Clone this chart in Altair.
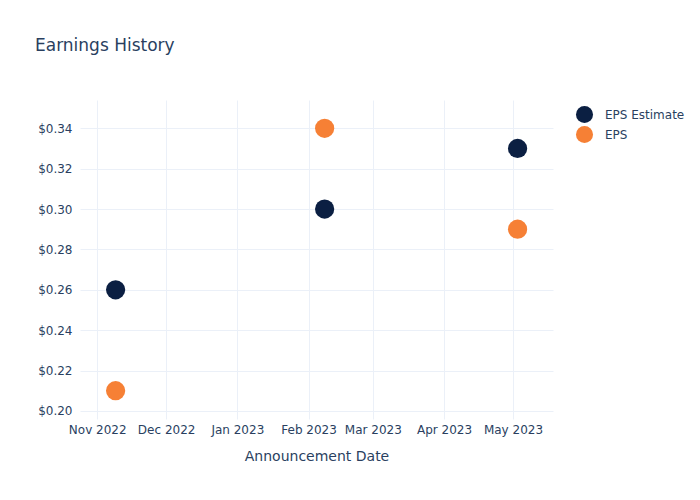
import altair as alt
import pandas as pd

dates = ["2022-11-09", "2023-02-08", "2023-05-03"]
eps_estimate = [0.26, 0.30, 0.33]
eps_actual = [0.21, 0.34, 0.29]
series_names = ["EPS Estimate", "EPS"]
series_colors = ["#0b1f42", "#f68035"]

rows = []
for d, e in zip(dates, eps_estimate):
    rows.append({"date": d, "value": e, "series": series_names[0]})
for d, a in zip(dates, eps_actual):
    rows.append({"date": d, "value": a, "series": series_names[1]})
df = pd.DataFrame(rows)

month_ticks = [alt.DateTime(year=y, month=m, date=1, utc=True)
               for y, m in [(2022, 11), (2022, 12), (2023, 1), (2023, 2), (2023, 3), (2023, 4), (2023, 5)]]
y_ticks = [0.20, 0.22, 0.24, 0.26, 0.28, 0.30, 0.32, 0.34]

FONT = "DejaVu Sans"
TXT = "#2a3f5f"
GRID = "#ebf0f8"

chart = alt.Chart(df).mark_circle(size=370, opacity=1).encode(
    x=alt.X("date:T", title="Announcement Date",
            scale=alt.Scale(type="utc",
                            domain=[alt.DateTime(year=2022, month=10, date=24, hours=12, utc=True),
                                    alt.DateTime(year=2023, month=5, date=18, hours=10, utc=True)]),
            axis=alt.Axis(values=month_ticks, format="%b %Y", labelFlush=False,
                          labelPadding=5, titlePadding=14)),
    y=alt.Y("value:Q", title=None,
            scale=alt.Scale(domain=[0.196, 0.354], nice=False, zero=False),
            axis=alt.Axis(values=y_ticks, format="$.2f", labelPadding=8)),
    color=alt.Color("series:N", title=None,
                    scale=alt.Scale(domain=series_names, range=series_colors),
                    legend=alt.Legend(orient="none", legendX=495, legendY=5,
                                      symbolType="circle", symbolSize=290,
                                      labelFontSize=12, labelColor=TXT, labelFont=FONT,
                                      labelOffset=11, rowPadding=1, symbolOpacity=1)),
).properties(
    width=473, height=319,
    background="white",
    title=alt.TitleParams("Earnings History", anchor="start", frame="group",
                          dx=-45, offset=28, fontSize=17, fontWeight="normal",
                          color=TXT, font=FONT, baseline="bottom"),
    autosize=alt.AutoSizeParams(type="none"),
    padding={"left": 80, "top": 100, "right": 147, "bottom": 81},
).configure_axis(
    grid=True, gridColor=GRID, gridWidth=1, domain=False, ticks=False,
    labelFont=FONT, labelFontSize=12, labelColor=TXT,
    titleFont=FONT, titleFontSize=14, titleColor=TXT, titleFontWeight="normal",
).configure_view(stroke=None)

chart.save("out.html", embed_options={"renderer": "svg", "actions": False})
